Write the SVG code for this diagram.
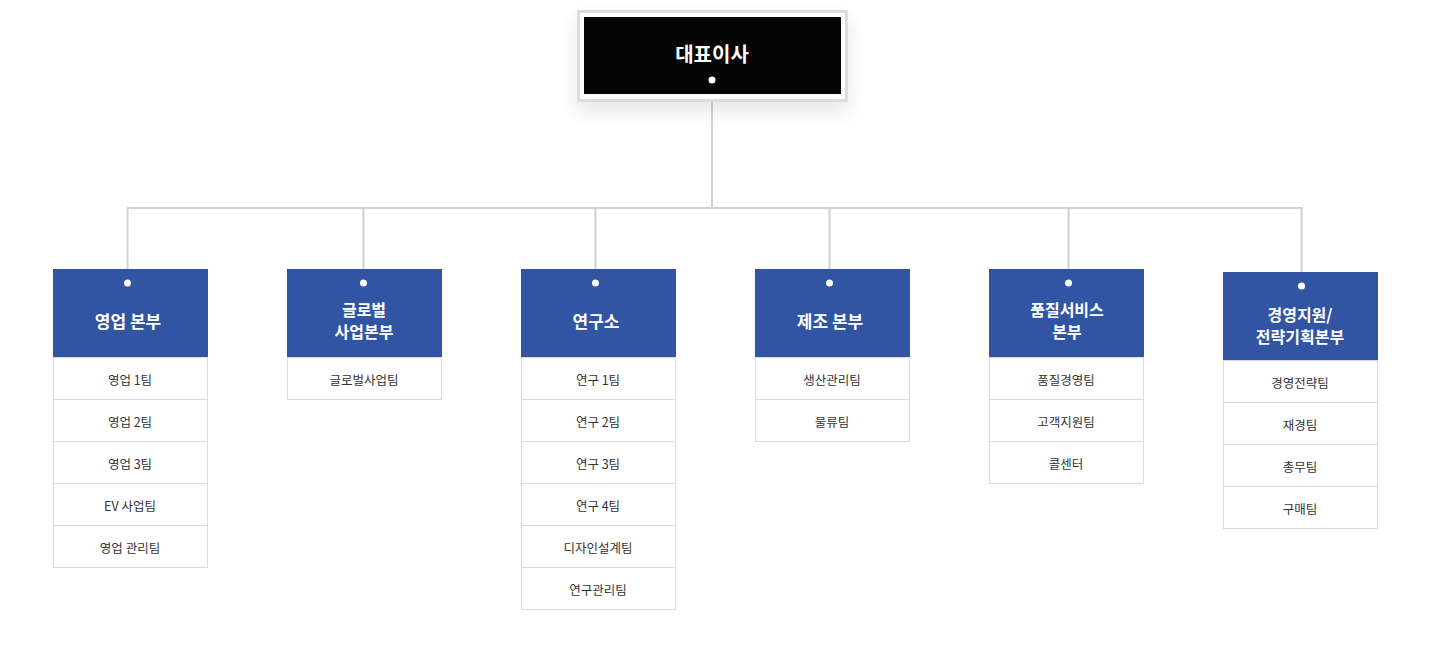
<svg xmlns="http://www.w3.org/2000/svg" width="1442" height="664" viewBox="0 0 1442 664">
<defs>
<filter id="sh" x="-20%" y="-30%" width="140%" height="190%">
<feGaussianBlur in="SourceAlpha" stdDeviation="9"/>
<feOffset dy="9"/>
<feComponentTransfer><feFuncA type="linear" slope="0.1"/></feComponentTransfer>
<feMerge><feMergeNode/><feMergeNode in="SourceGraphic"/></feMerge>
</filter>
<style>
.ln{stroke:#d2d2d2;stroke-width:2;fill:none}
.hd{fill:#3155a2}
.dot{fill:#fff}
.ht{fill:#fff;font-family:"Noto Sans CJK KR","Noto Sans",sans-serif;font-size:17px;font-weight:bold;text-anchor:middle}
.ht2{fill:#fff;font-family:"Noto Sans CJK KR","Noto Sans",sans-serif;font-size:16px;font-weight:bold;text-anchor:middle}
.row{fill:#fff;stroke:#dcdcdc;stroke-width:1}
.rt{fill:#333;font-family:"Noto Sans CJK KR","Noto Sans",sans-serif;font-size:12.5px;text-anchor:middle}
</style>
</defs>
<rect width="1442" height="664" fill="#fff"/>
<g id="connectors">
<path class="ln" d="M712 101V208M127 208H1303M127.5 208V269M363.5 208V269M595.5 208V269M829.5 208V269M1068.5 208V269M1301.5 208V272"/>
</g>
<g id="ceo">
<rect x="578.5" y="11.5" width="268" height="89" fill="#fff" stroke="#dcdcdc" stroke-width="3" filter="url(#sh)"/>
<rect x="584" y="17" width="257" height="77" fill="#050505"/>
<text x="712" y="62" class="ht" style="font-size:20px">대표이사</text>
<circle class="dot" cx="712" cy="80" r="3.5"/>
</g>
<g id="sales">
<rect class="hd" x="53" y="269" width="155" height="88"/>
<circle class="dot" cx="127.5" cy="283" r="3.5"/>
<text class="ht" x="128" y="328">영업 본부</text>
<rect class="row" x="53.5" y="357.5" width="154" height="42"/><text class="rt" x="130" y="385">영업 1팀</text>
<rect class="row" x="53.5" y="399.5" width="154" height="42"/><text class="rt" x="130" y="427">영업 2팀</text>
<rect class="row" x="53.5" y="441.5" width="154" height="42"/><text class="rt" x="130" y="469">영업 3팀</text>
<rect class="row" x="53.5" y="483.5" width="154" height="42"/><text class="rt" x="130" y="511">EV 사업팀</text>
<rect class="row" x="53.5" y="525.5" width="154" height="42"/><text class="rt" x="130" y="553">영업 관리팀</text>
</g>
<g id="global">
<rect class="hd" x="287" y="269" width="155" height="88"/>
<circle class="dot" cx="363.5" cy="283" r="3.5"/>
<text class="ht2" x="364" y="316">글로벌</text>
<text class="ht2" x="364" y="338">사업본부</text>
<rect class="row" x="287.5" y="357.5" width="154" height="42"/><text class="rt" x="364" y="385">글로벌사업팀</text>
</g>
<g id="rnd">
<rect class="hd" x="521" y="269" width="155" height="88"/>
<circle class="dot" cx="595.5" cy="283" r="3.5"/>
<text class="ht" x="596" y="328">연구소</text>
<rect class="row" x="521.5" y="357.5" width="154" height="42"/><text class="rt" x="598" y="385">연구 1팀</text>
<rect class="row" x="521.5" y="399.5" width="154" height="42"/><text class="rt" x="598" y="427">연구 2팀</text>
<rect class="row" x="521.5" y="441.5" width="154" height="42"/><text class="rt" x="598" y="469">연구 3팀</text>
<rect class="row" x="521.5" y="483.5" width="154" height="42"/><text class="rt" x="598" y="511">연구 4팀</text>
<rect class="row" x="521.5" y="525.5" width="154" height="42"/><text class="rt" x="598" y="553">디자인설계팀</text>
<rect class="row" x="521.5" y="567.5" width="154" height="42"/><text class="rt" x="598" y="595">연구관리팀</text>
</g>
<g id="mfg">
<rect class="hd" x="755" y="269" width="155" height="88"/>
<circle class="dot" cx="829.5" cy="283" r="3.5"/>
<text class="ht" x="830" y="328">제조 본부</text>
<rect class="row" x="755.5" y="357.5" width="154" height="42"/><text class="rt" x="832" y="385">생산관리팀</text>
<rect class="row" x="755.5" y="399.5" width="154" height="42"/><text class="rt" x="832" y="427">물류팀</text>
</g>
<g id="quality">
<rect class="hd" x="989" y="269" width="155" height="88"/>
<circle class="dot" cx="1068.5" cy="283" r="3.5"/>
<text class="ht2" x="1067" y="316">품질서비스</text>
<text class="ht2" x="1067" y="338">본부</text>
<rect class="row" x="989.5" y="357.5" width="154" height="42"/><text class="rt" x="1066" y="385">품질경영팀</text>
<rect class="row" x="989.5" y="399.5" width="154" height="42"/><text class="rt" x="1066" y="427">고객지원팀</text>
<rect class="row" x="989.5" y="441.5" width="154" height="42"/><text class="rt" x="1066" y="469">콜센터</text>
</g>
<g id="mgmt">
<rect class="hd" x="1223" y="272" width="155" height="88"/>
<circle class="dot" cx="1301.5" cy="286" r="3.5"/>
<text class="ht2" x="1300" y="321">경영지원/</text>
<text class="ht2" x="1300" y="343">전략기획본부</text>
<rect class="row" x="1223.5" y="360.5" width="154" height="42"/><text class="rt" x="1300" y="388">경영전략팀</text>
<rect class="row" x="1223.5" y="402.5" width="154" height="42"/><text class="rt" x="1300" y="430">재경팀</text>
<rect class="row" x="1223.5" y="444.5" width="154" height="42"/><text class="rt" x="1300" y="472">총무팀</text>
<rect class="row" x="1223.5" y="486.5" width="154" height="42"/><text class="rt" x="1300" y="514">구매팀</text>
</g>
</svg>
